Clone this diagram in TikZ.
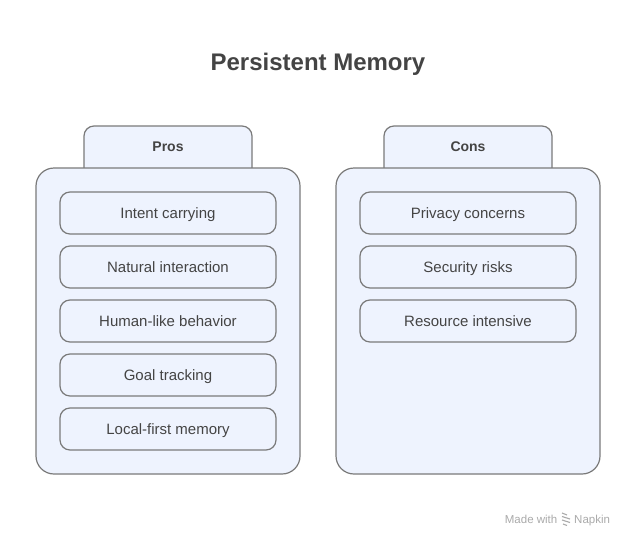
\documentclass[tikz,border=0pt]{standalone}
\usepackage{fontspec}
\setmainfont{Liberation Sans}
\begin{document}
\begin{tikzpicture}[x=1pt,y=-1pt,
  panel/.style={draw=panelline,fill=panelfill,line width=1.2pt,rounded corners=18pt},
  tabbox/.style={draw=panelline,fill=panelfill,line width=1.2pt,rounded corners=10pt},
  itembox/.style={draw=panelline,fill=panelfill,line width=1.2pt,rounded corners=10pt,minimum width=216pt,minimum height=42pt,inner sep=0pt,text height=10.8pt,text depth=0.6pt,font=\fontsize{15}{18}\selectfont,text=txt},
  tablabel/.style={font=\bfseries\fontsize{14}{17}\selectfont,text=txt,text height=10pt,text depth=0.5pt,inner sep=0pt},
  wmtext/.style={font=\fontsize{11.5}{13}\selectfont,text=wm,inner sep=0pt}]
\definecolor{panelfill}{HTML}{EEF3FE}
\definecolor{panelline}{HTML}{7A7A7A}
\definecolor{txt}{HTML}{444444}
\definecolor{wm}{HTML}{AAAAAA}
\useasboundingbox (0,0) rectangle (636,546);
\fill[white] (0,0) rectangle (636,546);
\node[font=\bfseries\fontsize{24}{28}\selectfont,text=txt,text height=17.3pt,text depth=0.8pt,inner sep=0pt] (title) at (318,62) {Persistent Memory};
% Pros
\draw[tabbox] (84,180) -- (84,126) -- (252,126) -- (252,180);
\draw[panel] (36,168) rectangle (300,474);
\node[tablabel] (pros) at (168,147) {Pros};
\node[itembox] (p1) at (168,213) {Intent carrying};
\node[itembox] (p2) at (168,267) {Natural interaction};
\node[itembox] (p3) at (168,321) {Human-like behavior};
\node[itembox] (p4) at (168,375) {Goal tracking};
\node[itembox] (p5) at (168,429) {Local-first memory};
% Cons
\draw[tabbox] (384,180) -- (384,126) -- (552,126) -- (552,180);
\draw[panel] (336,168) rectangle (600,474);
\node[tablabel] (cons) at (468,147) {Cons};
\node[itembox] (c1) at (468,213) {Privacy concerns};
\node[itembox] (c2) at (468,267) {Security risks};
\node[itembox] (c3) at (468,321) {Resource intensive};
% watermark
\node[wmtext,anchor=base east] (made) at (557.5,523) {Made with};
\node[wmtext,anchor=base west] (napkin) at (574,523) {Napkin};
\begin{scope}[draw=wm,line width=1.1pt]
\draw (562,513) -- (567,515);
\draw (562,516.5) -- (570,519);
\draw (562,520) -- (570,522.5);
\draw (563,524) -- (567,525.5);
\end{scope}
\end{tikzpicture}
\end{document}
